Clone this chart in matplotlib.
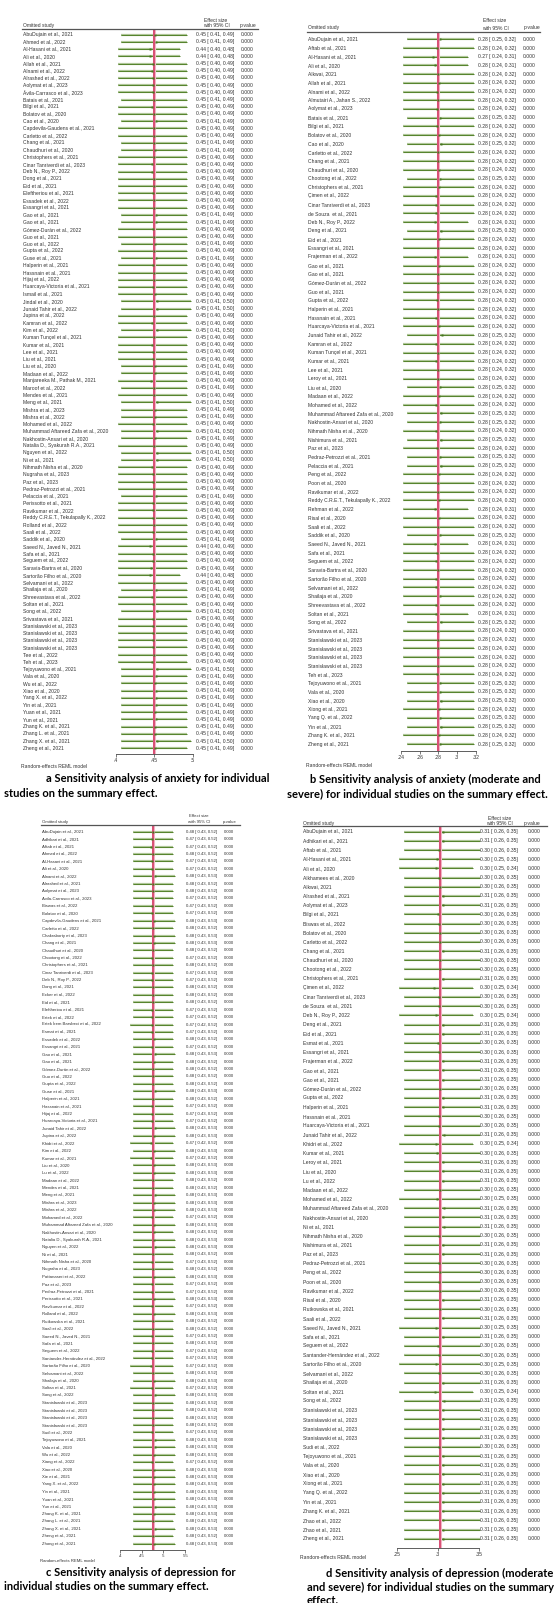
import numpy as np
from matplotlib import pyplot as plt
from matplotlib.lines import Line2D
from matplotlib.transforms import blended_transform_factory

ST = "Stanisławski et al., 2023"

# ---- a: anxiety ----
a_study = [
    "AbuDujain et al., 2021", "Ahmed et al., 2022", "Al-Hasani et al., 2021", "Ali et al., 2020",
    "Allah et al., 2021", "Alnami et al., 2022", "Alrashed et al., 2022", "Aolymat et al., 2023",
    "Ávila-Carrasco et al., 2023", "Batais et al., 2021", "Bilgi et al., 2021", "Bolatov et al., 2020",
    "Cao et al., 2020", "Capdevila-Gaudens et al., 2021", "Carletto et al., 2022", "Chang et al., 2021",
    "Chaudhuri et al., 2020", "Christophers et al., 2021", "Cinar Tanriverdi et al., 2023", "Deb N., Roy P., 2022",
    "Dong et al., 2021", "Eid et al., 2021", "Eleftheriou et al., 2021", "Essadek et al., 2022",
    "Essangri et al., 2021", "Gao et al., 2021", "Gao et al., 2021", "Gómez-Durán et al., 2022",
    "Guo et al., 2021", "Guo et al., 2022", "Gupta et al., 2022", "Guse et al., 2021",
    "Halperin et al., 2021", "Hassnain et al., 2021", "Hijaj et al., 2022", "Huarcaya-Victoria et al., 2021",
    "Ismail et al., 2021", "Jindal et al., 2020", "Junaid Tahir et al., 2022", "Jupina et al., 2022",
    "Kamran et al., 2022", "Kim et al., 2022", "Kuman Tunçel et al., 2021", "Kumar et al., 2021",
    "Lee et al., 2021", "Liu et al., 2021", "Liu et al., 2020", "Madaan et al., 2022",
    "Manjareeka M., Pathak M., 2021", "Maroof et al., 2022", "Mendes et al., 2021", "Meng et al., 2021",
    "Mishra et al., 2023", "Mishra et al., 2022", "Mohamed et al., 2022", "Muhammad Aftareed Zafa et al., 2020",
    "Nakhostin-Ansari et al., 2020", "Natalia D., Syakurah R.A., 2021", "Nguyen et al., 2022", "Ni et al., 2021",
    "Nihmath Nisha et al., 2020", "Nugraha et al., 2023", "Paz et al., 2023", "Pedraz-Petrozzi et al., 2021",
    "Pelaccia et al., 2021", "Perissotto et al., 2021", "Ravikumar et al., 2022", "Reddy C.R.E.T., Tekulapally K., 2022",
    "Rolland et al., 2022", "Saali et al., 2022", "Saddik et al., 2020", "Saeed N., Javed N., 2021",
    "Safa et al., 2021", "Seguem et al., 2022", "Saravia-Bartra et al., 2020", "Sartorão Filho et al., 2020",
    "Selvamani et al., 2022", "Shailaja et al., 2020", "Shreevastava et al., 2022", "Soltan et al., 2021",
    "Song et al., 2022", "Srivastava et al., 2021", ST, ST, ST, ST,
    "Tee et al., 2022", "Teh et al., 2023", "Tejoyuwono et al., 2021", "Vala et al., 2020",
    "Wu et al., 2022", "Xiao et al., 2020", "Yang X. et al., 2022", "Yin et al., 2021",
    "Yuan et al., 2021", "Yun et al., 2021", "Zhang K. et al., 2021", "Zhang L. et al., 2021",
    "Zhang X. et al., 2021", "Zheng et al., 2021",
]
a_es = [
    .451, .452, .444, .444, .448, .447, .448, .448, .448, .450,
    .447, .450, .452, .449, .449, .450, .451, .449, .447, .447,
    .450, .449, .448, .449, .449, .452, .452, .448, .449, .451,
    .449, .452, .448, .449, .449, .448, .451, .453, .454, .450,
    .447, .453, .449, .447, .448, .448, .451, .451, .446, .450,
    .450, .453, .451, .451, .448, .454, .451, .449, .453, .453,
    .447, .448, .448, .449, .452, .448, .448, .448, .449, .448,
    .452, .444, .448, .448, .446, .444, .449, .452, .447, .448,
    .453, .448, .448, .448, .448, .448, .449, .447, .453, .452,
    .451, .452, .452, .452, .451, .452, .451, .451, .454, .451,
]
a_lo = [
    .407, .407, .403, .403, .403, .403, .403, .403, .403, .407,
    .403, .403, .407, .403, .403, .407, .407, .403, .403, .403,
    .403, .403, .403, .403, .403, .407, .407, .403, .403, .407,
    .403, .407, .403, .403, .403, .403, .403, .407, .407, .403,
    .403, .407, .403, .403, .403, .403, .407, .407, .403, .407,
    .403, .407, .407, .407, .403, .407, .407, .403, .407, .407,
    .403, .403, .403, .403, .407, .403, .403, .403, .403, .403,
    .407, .403, .403, .403, .403, .403, .403, .407, .403, .403,
    .407, .403, .403, .403, .403, .403, .403, .403, .407, .407,
    .407, .407, .407, .407, .407, .407, .407, .407, .407, .407,
]
a_hi = [
    .493, .493, .484, .484, .493, .493, .493, .493, .493, .493,
    .493, .493, .493, .493, .493, .493, .493, .493, .493, .493,
    .493, .493, .493, .493, .493, .493, .493, .493, .493, .493,
    .493, .493, .493, .493, .493, .493, .493, .498, .498, .493,
    .493, .498, .493, .493, .493, .493, .493, .493, .493, .493,
    .493, .498, .493, .493, .493, .498, .493, .493, .498, .498,
    .493, .493, .493, .493, .493, .493, .493, .493, .493, .493,
    .493, .493, .493, .493, .493, .484, .493, .493, .493, .493,
    .498, .493, .493, .493, .493, .493, .493, .493, .498, .493,
    .493, .493, .493, .493, .493, .493, .493, .493, .498, .493,
]
a_overall = 0.450
a_ticks = [0.40, 0.45, 0.50]
a_ticklabels = [".4", ".45", ".5"]
a_caption = ["a Sensitivity analysis of anxiety for individual",
             "studies on the summary effect."]

# ---- b: anxiety (moderate and severe) ----
b_study = [
    "AbuDujain et al., 2021", "Aftab et al., 2021", "Al-Hasani et al., 2021", "Ali et al., 2020",
    "Alkwai, 2021", "Allah et al., 2021", "Alnami et al., 2022", "Almutairi A., Jahan S., 2022",
    "Aolymat et al., 2023", "Batais et al., 2021", "Bilgi et al., 2021", "Bolatov et al., 2020",
    "Cao et al., 2020", "Carletto et al., 2022", "Chang et al., 2021", "Chaudhuri et al., 2020",
    "Chootong et al., 2022", "Christophers et al., 2021", "Çimen et al., 2022", "Cinar Tanriverdi et al., 2023",
    "de Souza  et al., 2021", "Deb N., Roy P., 2022", "Deng et al., 2021", "Eid et al., 2021",
    "Essangri et al., 2021", "Frajerman et al., 2022", "Gao et al., 2021", "Gao et al., 2021",
    "Gómez-Durán et al., 2022", "Guo et al., 2021", "Gupta et al., 2022", "Halperin et al., 2021",
    "Hassnain et al., 2021", "Huarcaya-Victoria et al., 2021", "Junaid Tahir et al., 2022", "Kamran et al., 2022",
    "Kuman Tunçel et al., 2021", "Kumar et al., 2021", "Lee et al., 2021", "Leroy et al., 2021",
    "Liu et al., 2020", "Madaan et al., 2022", "Mohamed et al., 2022", "Muhammad Aftareed Zafa et al., 2020",
    "Nakhostin-Ansari et al., 2020", "Nihmath Nisha et al., 2020", "Nishimura et al., 2021", "Paz et al., 2023",
    "Pedraz-Petrozzi et al., 2021", "Pelaccia et al., 2021", "Peng et al., 2022", "Poon et al., 2020",
    "Ravikumar et al., 2022", "Reddy C.R.E.T., Tekulapally K., 2022", "Rehman et al., 2022", "Risal et al., 2020",
    "Saali et al., 2022", "Saddik et al., 2020", "Saeed N., Javed N., 2021", "Safa et al., 2021",
    "Seguem et al., 2022", "Saravia-Bartra et al., 2020", "Sartorão Filho et al., 2020", "Selvamani et al., 2022",
    "Shailaja et al., 2020", "Shreevastava et al., 2022", "Soltan et al., 2021", "Song et al., 2022",
    "Srivastava et al., 2021", ST, ST, ST, ST,
    "Teh et al., 2023", "Tejoyuwono et al., 2021", "Vala et al., 2020", "Xiao et al., 2020",
    "Xiong et al., 2021", "Yang Q. et al., 2022", "Yin et al., 2021", "Zhang K. et al., 2021",
    "Zheng et al., 2021",
]
b_es = [
    .282, .279, .274, .276, .280, .281, .279, .280, .279, .282,
    .279, .281, .283, .280, .280, .281, .282, .281, .278, .277,
    .278, .276, .283, .281, .280, .276, .281, .280, .280, .280,
    .279, .280, .278, .281, .284, .278, .280, .278, .280, .280,
    .282, .281, .278, .283, .282, .278, .283, .279, .282, .283,
    .281, .280, .280, .281, .276, .281, .280, .282, .276, .279,
    .277, .280, .278, .278, .282, .278, .277, .283, .280, .280,
    .280, .280, .280, .279, .282, .282, .283, .281, .282, .283,
    .281, .282,
]
b_lo = [
    .246, .242, .242, .242, .242, .242, .242, .242, .242, .246,
    .242, .242, .246, .242, .242, .242, .246, .242, .242, .242,
    .242, .242, .246, .242, .242, .242, .242, .242, .242, .242,
    .242, .242, .242, .242, .246, .242, .242, .242, .242, .242,
    .246, .242, .242, .246, .246, .242, .246, .242, .246, .246,
    .242, .242, .242, .242, .242, .242, .242, .246, .242, .242,
    .242, .242, .242, .242, .242, .242, .242, .246, .242, .242,
    .242, .242, .242, .242, .246, .246, .246, .242, .246, .246,
    .242, .246,
]
b_hi = [
    .318, .318, .312, .312, .318, .318, .318, .318, .318, .318,
    .318, .318, .318, .318, .318, .318, .318, .318, .318, .318,
    .318, .312, .318, .318, .318, .312, .318, .318, .318, .318,
    .318, .318, .318, .318, .318, .318, .318, .318, .318, .318,
    .318, .318, .318, .318, .318, .318, .318, .318, .318, .318,
    .318, .318, .318, .318, .312, .318, .318, .318, .312, .318,
    .318, .318, .318, .318, .318, .318, .312, .318, .318, .318,
    .318, .318, .318, .318, .318, .318, .318, .318, .318, .318,
    .318, .318,
]
b_overall = 0.280
b_ticks = [0.24, 0.26, 0.28, 0.30, 0.32]
b_ticklabels = [".24", ".26", ".28", ".3", ".32"]
b_caption = ["b Sensitivity analysis of anxiety (moderate and",
             "severe) for individual studies on the summary effect."]

# ---- c: depression ----
c_study = [
    "AbuDujain et al., 2021", "Adhikari et al., 2021", "Aftab et al., 2021", "Ahmed et al., 2022",
    "Al-Hasani et al., 2021", "Ali et al., 2020", "Alnami et al., 2022", "Alrashed et al., 2021",
    "Aolymat et al., 2023", "Ávila-Carrasco et al., 2023", "Biswas et al., 2022", "Bolatov et al., 2020",
    "Capdevila-Gaudens et al., 2021", "Carletto et al., 2022", "Chakraborty et al., 2023", "Chang et al., 2021",
    "Chaudhuri et al., 2020", "Chootong et al., 2022", "Christophers et al., 2021", "Cinar Tanriverdi et al., 2023",
    "Deb N., Roy P., 2022", "Dong et al., 2021", "Ecker et al., 2022", "Eid et al., 2021",
    "Eleftheriou et al., 2021", "Ertek et al., 2022", "Ertek İrem Barsbeci et al., 2022", "Esmat et al., 2021",
    "Essadek et al., 2022", "Essangri et al., 2021", "Gao et al., 2021", "Gao et al., 2021",
    "Gómez-Durán et al., 2022", "Guo et al., 2022", "Gupta et al., 2022", "Guse et al., 2021",
    "Halperin et al., 2021", "Hassnain et al., 2021", "Hijaj et al., 2022", "Huarcaya-Victoria et al., 2021",
    "Junaid Tahir et al., 2022", "Jupina et al., 2022", "Khidri et al., 2022", "Kim et al., 2022",
    "Kumar et al., 2021", "Liu et al., 2020", "Lu et al., 2022", "Madaan et al., 2022",
    "Mendes et al., 2021", "Meng et al., 2021", "Mishra et al., 2023", "Mishra et al., 2022",
    "Mohamed et al., 2022", "Muhammad Aftareed Zafa et al., 2020", "Nakhostin-Ansari et al., 2020", "Natalia D., Syakurah R.A., 2021",
    "Nguyen et al., 2022", "Ni et al., 2021", "Nihmath Nisha et al., 2020", "Nugraha et al., 2023",
    "Pattanaseri et al., 2022", "Paz et al., 2023", "Pedraz-Petrozzi et al., 2021", "Perissotto et al., 2021",
    "Ravikumar et al., 2022", "Rolland et al., 2022", "Rutkowska et al., 2021", "Saali et al., 2022",
    "Saeed N., Javed N., 2021", "Safa et al., 2021", "Seguem et al., 2022", "Santander-Hernández et al., 2022",
    "Sartorão Filho et al., 2020", "Selvamani et al., 2022", "Shailaja et al., 2020", "Soltan et al., 2021",
    "Song et al., 2022", ST, ST, ST, ST,
    "Sudi et al., 2022", "Tejoyuwono et al., 2021", "Vala et al., 2020", "Wu et al., 2022",
    "Xiang et al., 2022", "Xiao et al., 2020", "Xie et al., 2021", "Yang X. et al., 2022",
    "Yin et al., 2021", "Yuan et al., 2021", "Yun et al., 2021", "Zhang K. et al., 2021",
    "Zhang L. et al., 2021", "Zhang X. et al., 2021", "Zheng et al., 2021", "Zhong et al., 2021",
]
c_es = [
    .477, .474, .472, .477, .474, .473, .481, .477, .476, .474,
    .474, .474, .479, .477, .479, .478, .477, .474, .477, .474,
    .473, .477, .477, .477, .474, .474, .473, .474, .478, .474,
    .480, .478, .477, .477, .477, .480, .476, .474, .474, .474,
    .480, .478, .472, .479, .472, .479, .479, .477, .477, .481,
    .479, .479, .474, .479, .478, .478, .480, .476, .473, .477,
    .478, .474, .474, .478, .474, .479, .477, .477, .473, .477,
    .474, .474, .472, .477, .479, .473, .480, .477, .477, .477,
    .477, .474, .480, .480, .479, .474, .478, .479, .478, .478,
    .478, .480, .478, .477, .480, .477, .478,
]
c_lo = [
    .429, .429, .429, .429, .429, .429, .429, .429, .429, .429,
    .429, .429, .429, .429, .429, .429, .429, .429, .429, .429,
    .429, .429, .429, .429, .429, .429, .424, .429, .429, .429,
    .429, .429, .429, .429, .429, .429, .429, .429, .429, .429,
    .429, .429, .424, .429, .424, .429, .429, .429, .429, .429,
    .429, .429, .429, .429, .429, .429, .429, .429, .429, .429,
    .429, .429, .429, .429, .429, .429, .429, .429, .429, .429,
    .429, .429, .424, .429, .429, .424, .429, .429, .429, .429,
    .429, .429, .429, .429, .429, .429, .429, .429, .429, .429,
    .429, .429, .429, .429, .429, .429, .429,
]
c_hi = [
    .523, .523, .523, .523, .523, .523, .527, .523, .523, .523,
    .523, .523, .527, .523, .527, .527, .523, .523, .523, .523,
    .523, .523, .523, .523, .523, .523, .523, .523, .523, .523,
    .527, .523, .523, .523, .523, .527, .523, .523, .523, .523,
    .527, .527, .523, .527, .523, .527, .527, .523, .523, .527,
    .527, .527, .523, .527, .523, .527, .527, .523, .523, .523,
    .527, .523, .523, .527, .523, .527, .523, .523, .523, .523,
    .523, .523, .523, .523, .527, .523, .527, .523, .523, .523,
    .523, .523, .527, .527, .527, .523, .527, .527, .527, .527,
    .527, .527, .527, .523, .527, .523, .527,
]
c_overall = 0.476
c_ticks = [0.40, 0.45, 0.50, 0.55]
c_ticklabels = [".4", ".45", ".5", ".55"]
c_caption = ["c Sensitivity analysis of depression for",
             "individual studies on the summary effect."]

# ---- d: depression (moderate and severe) ----
d_study = [
    "AbuDujain et al., 2021", "Adhikari et al., 2021", "Aftab et al., 2021", "Al-Hasani et al., 2021",
    "Ali et al., 2020", "Alkhamees et al., 2020", "Alkwai, 2021", "Alrashed et al., 2021",
    "Aolymat et al., 2023", "Bilgi et al., 2021", "Biswas et al., 2022", "Bolatov et al., 2020",
    "Carletto et al., 2022", "Chang et al., 2021", "Chaudhuri et al., 2020", "Chootong et al., 2022",
    "Christophers et al., 2021", "Çimen et al., 2022", "Cinar Tanriverdi et al., 2023", "de Souza  et al., 2021",
    "Deb N., Roy P., 2022", "Deng et al., 2021", "Eid et al., 2021", "Esmat et al., 2021",
    "Essangri et al., 2021", "Frajerman et al., 2022", "Gao et al., 2021", "Gao et al., 2021",
    "Gómez-Durán et al., 2022", "Gupta et al., 2022", "Halperin et al., 2021", "Hassnain et al., 2021",
    "Huarcaya-Victoria et al., 2021", "Junaid Tahir et al., 2022", "Khidri et al., 2022", "Kumar et al., 2021",
    "Leroy et al., 2021", "Liu et al., 2020", "Lu et al., 2022", "Madaan et al., 2022",
    "Mohamed et al., 2022", "Muhammad Aftareed Zafa et al., 2020", "Nakhostin-Ansari et al., 2020", "Ni et al., 2021",
    "Nihmath Nisha et al., 2020", "Nishimura et al., 2021", "Paz et al., 2023", "Pedraz-Petrozzi et al., 2021",
    "Peng et al., 2022", "Poon et al., 2020", "Ravikumar et al., 2022", "Risal et al., 2020",
    "Rutkowska et al., 2021", "Saali et al., 2022", "Saeed N., Javed N., 2021", "Safa et al., 2021",
    "Seguem et al., 2022", "Santander-Hernández et al., 2022", "Sartorão Filho et al., 2020", "Selvamani et al., 2022",
    "Shailaja et al., 2020", "Soltan et al., 2021", "Song et al., 2022", ST, ST, ST, ST,
    "Sudi et al., 2022", "Tejoyuwono et al., 2021", "Vala et al., 2020", "Xiao et al., 2020",
    "Xiong et al., 2021", "Yang Q. et al., 2022", "Yin et al., 2021", "Zhang K. et al., 2021",
    "Zhao et al., 2022", "Zhao et al., 2021", "Zheng et al., 2021",
]
d_es = [
    .306, .306, .302, .299, .298, .301, .303, .306, .306, .300,
    .301, .303, .303, .306, .303, .303, .306, .296, .302, .301,
    .298, .307, .306, .300, .301, .306, .307, .307, .303, .306,
    .306, .301, .302, .308, .298, .299, .306, .306, .307, .303,
    .299, .308, .307, .308, .301, .306, .306, .302, .303, .302,
    .303, .306, .303, .306, .298, .306, .300, .302, .298, .302,
    .306, .297, .308, .306, .306, .306, .306, .302, .306, .306,
    .306, .306, .306, .306, .306, .306, .306, .306,
]
d_lo = [
    .259, .259, .259, .253, .253, .259, .259, .259, .259, .259,
    .259, .259, .259, .259, .259, .259, .259, .253, .259, .259,
    .253, .259, .259, .259, .259, .259, .259, .259, .259, .259,
    .259, .259, .259, .259, .253, .259, .259, .259, .259, .259,
    .253, .259, .259, .259, .259, .259, .259, .259, .259, .259,
    .259, .259, .259, .259, .253, .259, .259, .259, .253, .259,
    .259, .253, .259, .259, .259, .259, .259, .259, .259, .259,
    .259, .259, .259, .259, .259, .259, .259, .259,
]
d_hi = [
    .352, .352, .352, .352, .343, .352, .352, .352, .352, .352,
    .352, .352, .352, .352, .352, .352, .352, .343, .352, .352,
    .343, .352, .352, .352, .352, .352, .352, .352, .352, .352,
    .352, .352, .352, .352, .343, .352, .352, .352, .352, .352,
    .352, .352, .352, .352, .352, .352, .352, .352, .352, .352,
    .352, .352, .352, .352, .352, .352, .352, .352, .352, .352,
    .352, .343, .352, .352, .352, .352, .352, .352, .352, .352,
    .352, .352, .352, .352, .352, .352, .352, .352,
]
d_overall = 0.303
d_ticks = [0.25, 0.30, 0.35]
d_ticklabels = [".25", ".3", ".35"]
d_caption = ["d Sensitivity analysis of depression (moderate",
             "and severe) for individual studies on the summary",
             "effect."]

W, H = 557, 1603
TXT = "#333333"
SMALL = "Liberation Sans"


def fx(px):
    return px / W


def fy(py):
    return 1 - py / H


fig = plt.figure(figsize=(W / 100, H / 100), dpi=100)


def forest(study, es, lo, hi, overall, ticks, ticklabels, caption, g):
    n = len(study)
    dy = (g["last"] - g["first"]) / (n - 1)
    ax = fig.add_axes([fx(g["x0"]), fy(g["bottom"]),
                       (g["x1"] - g["x0"]) / W, (g["bottom"] - g["top"]) / H])
    ax.patch.set_visible(False)
    ax.set_xlim(ticks[0], ticks[-1])
    ax.set_ylim((g["bottom"] - g["first"]) / dy, (g["top"] - g["first"]) / dy)
    for s in ["top", "left", "right"]:
        ax.spines[s].set_visible(False)
    ax.spines["bottom"].set_linewidth(0.6)
    ax.spines["bottom"].set_color("#444444")
    ax.set_yticks([])
    ax.set_xticks(ticks, ticklabels)
    ax.tick_params(axis="x", direction="out", length=2, width=0.5, pad=0.8,
                   labelsize=g["fs"], colors="#444444", labelcolor=TXT)
    for lab in ax.get_xticklabels():
        lab.set_family(SMALL)

    # leave-one-out estimates: light band, darker core, square marker
    y = np.arange(n)
    ax.hlines(y, lo, hi, color="#afc798", lw=1.6, zorder=2, clip_on=False)
    ax.hlines(y, lo, hi, color="#55822b", lw=0.7, zorder=2.1, clip_on=False)
    ax.axvline(overall, color="#f2b3c3", lw=2.2, zorder=2.4)
    ax.axvline(overall, color="#d2345f", lw=1.1, zorder=2.5)
    ax.plot(es, y, "s", ms=1.8, color="#467520", mec="none", zorder=3, clip_on=False)

    tr = blended_transform_factory(fig.transFigure, ax.transData)
    kw = dict(fontsize=g["fs"], family=SMALL, color=TXT, va="center", ha="left")
    for i in range(n):
        ax.text(fx(g["name_x"]), i, study[i], transform=tr, **kw)
        ax.text(fx(g["ci_x"]), i, f"{es[i]:.2f} [ {lo[i]:.2f}, {hi[i]:.2f}]", transform=tr, **kw)
        ax.text(fx(g["p_x"]), i, "0.000", transform=tr, **kw)

    # column headings and rule
    fig.text(fx(g["name_x"]), fy(g["hdr_y"]), "Omitted study", **kw)
    fig.text(fx(g["eff_x"]), fy(g["hdr1_y"]), "Effect size", **{**kw, "ha": "center"})
    fig.text(fx(g["eff_x"]), fy(g["hdr_y"]), "with 95% CI", **{**kw, "ha": "center"})
    fig.text(fx(g["phdr_x"]), fy(g["hdr_y"]), "p-value", **kw)
    rx0, rx1, ry = g["rule"]
    fig.add_artist(Line2D([fx(rx0), fx(rx1)], [fy(ry), fy(ry)], color="#555555", lw=0.9))
    fig.text(fx(g["model"][0]), fy(g["model"][1]), "Random-effects REML model", **kw)

    for (cx, cy), line in zip(g["cap"], caption):
        fig.text(fx(cx), fy(cy), line, family="Lato", weight="bold", fontsize=8.0,
                 color="black", va="center", ha="left")


forest(a_study, a_es, a_lo, a_hi, a_overall, a_ticks, a_ticklabels, a_caption,
       dict(x0=116, x1=192.7, top=28.7, bottom=754, first=34.7, last=748.3,
            name_x=23, ci_x=196, p_x=241, hdr_y=25.3, hdr1_y=20, eff_x=216, phdr_x=240,
            rule=(22.3, 258.3, 28.7), model=(21, 766), fs=3.6,
            cap=[(46, 779), (4, 794)]))

forest(b_study, b_es, b_lo, b_hi, b_overall, b_ticks, b_ticklabels, b_caption,
       dict(x0=401, x1=475.7, top=31.7, bottom=750.7, first=39.3, last=744,
            name_x=308, ci_x=478, p_x=523, hdr_y=28, hdr1_y=20.7, eff_x=495, phdr_x=524,
            rule=(307, 540, 31.7), model=(306, 765.3), fs=3.6,
            cap=[(310, 779), (287, 794)]))

forest(c_study, c_es, c_lo, c_hi, c_overall, c_ticks, c_ticklabels, c_caption,
       dict(x0=120, x1=185, top=825, bottom=1550, first=831.7, last=1543.7,
            name_x=41.7, ci_x=186, p_x=224, hdr_y=822.3, hdr1_y=816, eff_x=199, phdr_x=223,
            rule=(40.7, 240, 825), model=(40, 1561), fs=3.05,
            cap=[(46, 1573), (4, 1587)]))

forest(d_study, d_es, d_lo, d_hi, d_overall, d_ticks, d_ticklabels, d_caption,
       dict(x0=397, x1=478.5, top=826, bottom=1548, first=831.7, last=1538.7,
            name_x=303, ci_x=479.7, p_x=527.3, hdr_y=823.3, hdr1_y=819, eff_x=499.5, phdr_x=524,
            rule=(303, 547, 826), model=(299.7, 1557.7), fs=3.6,
            cap=[(326, 1573), (307, 1587), (307, 1601)]))

fig.savefig("out.png", dpi=100, facecolor="white")
